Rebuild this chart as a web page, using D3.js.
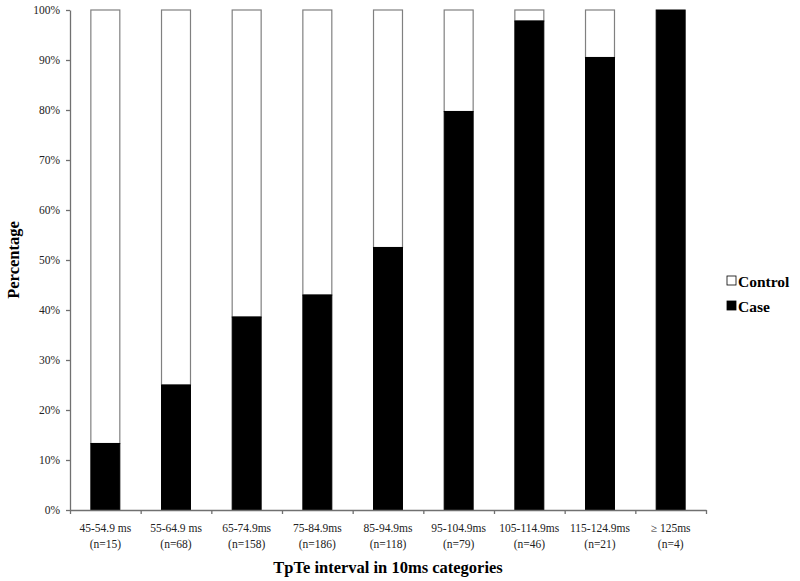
<!DOCTYPE html>
<html><head><meta charset="utf-8">
<script src="https://cdn.jsdelivr.net/npm/d3@7"></script>
<style>body{margin:0;background:#fff;} svg{display:block;}</style>
</head><body>
<svg id="c" width="800" height="581"></svg>
<script>
const categories = ["45-54.9 ms","55-64.9 ms","65-74.9ms","75-84.9ms","85-94.9ms","95-104.9ms","105-114.9ms","115-124.9ms","\u2265 125ms"];
const counts = ["(n=15)","(n=68)","(n=158)","(n=186)","(n=118)","(n=79)","(n=46)","(n=21)","(n=4)"];
const casePct = [13.3, 25.0, 38.6, 43.0, 52.5, 79.7, 97.8, 90.5, 100];
const controlPct = [86.7, 75.0, 61.4, 57.0, 47.5, 20.3, 2.2, 9.5, 0];
const yTicks = [0,10,20,30,40,50,60,70,80,90,100];

const svg = d3.select("#c");
const font = "'Liberation Serif','Times New Roman',serif";
const x = d3.scaleBand().domain(d3.range(categories.length)).range([70,706]).paddingInner(0.59).paddingOuter(0.295);
const xEdge = d3.scaleLinear().domain([0,categories.length]).range([70,706]);
const y = d3.scaleLinear().domain([0,100]).range([510,10]);

// bars: control (top, white) and case (bottom, black)
const g = svg.append("g");
g.selectAll("rect.ctrl").data(controlPct).join("rect")
  .attr("x",(d,i)=>x(i)).attr("width",x.bandwidth())
  .attr("y",(d,i)=>y(casePct[i]+d)).attr("height",(d,i)=>y(casePct[i])-y(casePct[i]+d))
  .attr("fill","#fff").attr("stroke","#808080").attr("stroke-width",1.2);
g.selectAll("rect.case").data(casePct).join("rect")
  .attr("x",(d,i)=>x(i)).attr("width",x.bandwidth())
  .attr("y",d=>y(d)).attr("height",d=>y(0)-y(d))
  .attr("fill","#000").attr("stroke","#000").attr("stroke-width",1);

// y axis
const ya = svg.append("g").attr("transform","translate(70,0)")
  .call(d3.axisLeft(y).tickValues(yTicks).tickFormat(d=>d+"%").tickSize(4).tickSizeOuter(0));
ya.select(".domain").attr("stroke","#707070").attr("stroke-width",1.3);
ya.selectAll(".tick line").attr("stroke","#707070").attr("stroke-width",1.3);
ya.selectAll("text").attr("font-family",font).attr("font-size",11.5).attr("fill","#222").attr("x",-10);

// x axis with ticks at band boundaries
const xa = svg.append("g").attr("transform","translate(0,510)")
  .call(d3.axisBottom(xEdge).tickValues(d3.range(categories.length+1)).tickFormat("").tickSize(4).tickSizeOuter(0));
xa.select(".domain").attr("stroke","#707070").attr("stroke-width",1.3);
xa.selectAll(".tick line").attr("stroke","#707070").attr("stroke-width",1.3);

const lbl = svg.append("g");
lbl.selectAll("text.c").data(categories).join("text")
  .attr("x",(d,i)=>x(i)+x.bandwidth()/2).attr("y",532)
  .attr("text-anchor","middle").attr("font-family",font).attr("font-size",11.5).attr("fill","#222").text(d=>d);
lbl.selectAll("text.n").data(counts).join("text")
  .attr("x",(d,i)=>x(i)+x.bandwidth()/2).attr("y",548)
  .attr("text-anchor","middle").attr("font-family",font).attr("font-size",11.5).attr("fill","#222").text(d=>d);

// titles
svg.append("text").attr("x",388).attr("y",573).attr("text-anchor","middle")
  .attr("font-family",font).attr("font-weight","bold").attr("font-size",16.5).text("TpTe interval in 10ms categories");
svg.append("text").attr("transform","translate(19,260) rotate(-90)").attr("text-anchor","middle")
  .attr("font-family",font).attr("font-weight","bold").attr("font-size",16.5).text("Percentage");

// legend
const legend = [{name:"Control",fill:"#fff"},{name:"Case",fill:"#000"}];
const lg = svg.append("g");
lg.selectAll("rect").data(legend).join("rect")
  .attr("x",727).attr("y",(d,i)=>276+i*25).attr("width",9).attr("height",9)
  .attr("fill",d=>d.fill).attr("stroke","#000").attr("stroke-width",0.8);
lg.selectAll("text").data(legend).join("text")
  .attr("x",738).attr("y",(d,i)=>287+i*25)
  .attr("font-family",font).attr("font-weight","bold").attr("font-size",15.5).text(d=>d.name);
</script>
</body></html>
